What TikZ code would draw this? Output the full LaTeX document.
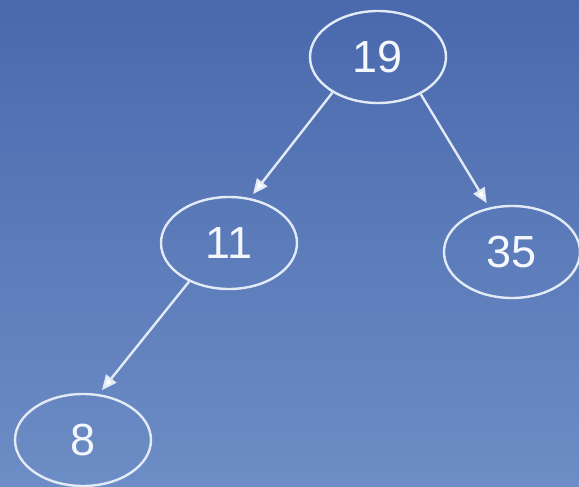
\documentclass[tikz,border=0pt]{standalone}
\usepackage{fontspec}
\setmainfont{Liberation Sans}
\usetikzlibrary{arrows.meta,shapes.geometric}
\definecolor{bgtop}{HTML}{4A69AD}
\definecolor{bgbot}{HTML}{6D8DC6}
\definecolor{lineclr}{HTML}{E2EAF6}
\definecolor{txtclr}{HTML}{F4F7FC}
\begin{document}
\begin{tikzpicture}[x=1pt,y=-1pt,
  treenode/.style={ellipse,draw=lineclr,line width=2.4pt,minimum width=136pt,minimum height=92pt,inner sep=0pt,
    text=txtclr,font=\fontsize{45}{45}\selectfont},
  edge/.style={draw=lineclr,line width=2.4pt,-{Triangle[length=15pt,width=13pt,fill=white]},shorten >=5pt}]
  \shade[top color=bgtop,bottom color=bgbot] (0,0) rectangle (579,487);
  \useasboundingbox (0,0) rectangle (579,487);
  \node[treenode] (n19) at (378,57) {19};
  \node[treenode] (n11) at (229,243) {11};
  \node[treenode] (n35) at (512,252) {35};
  \node[treenode] (n8) at (83,440) {8};
  \draw[edge] (n19.218) -- (n11.65);
  \draw[edge] (n19.319) -- (n35.117);
  \draw[edge] (n11.224) -- (n8.71);
\end{tikzpicture}
\end{document}
